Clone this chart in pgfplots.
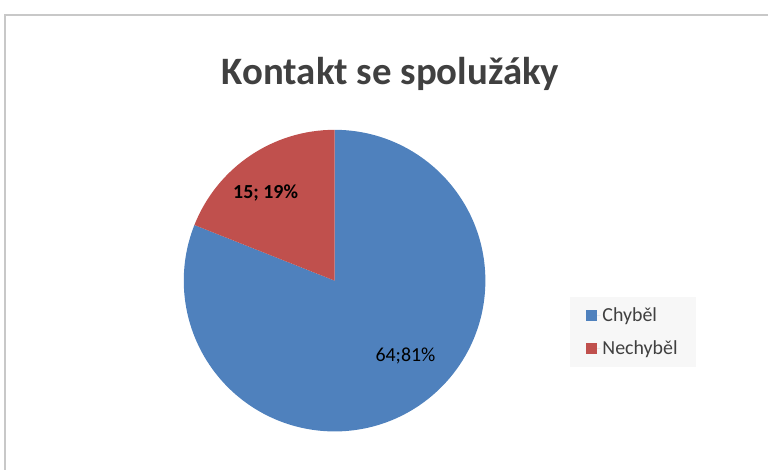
\documentclass[border=0pt]{standalone}
\usepackage{pgfplots}
\usepackage{pgfplotstable}
\pgfplotsset{compat=1.18}
\usepackage{fontspec}
\setmainfont{Carlito}

\definecolor{sliceblue}{HTML}{4F81BD}
\definecolor{slicered}{HTML}{C0504D}
\definecolor{txtgray}{HTML}{404040}
\definecolor{framegray}{HTML}{C8C8C8}

% pie values: Chybel, Nechybel
\pgfplotstableread{
value
64
15
}\piedata

\begin{document}
\begin{tikzpicture}
\pgfplotstablegetelem{0}{value}\of\piedata \let\va\pgfplotsretval
\pgfplotstablegetelem{1}{value}\of\piedata \let\vb\pgfplotsretval
\pgfmathsetmacro{\tot}{\va+\vb}
\pgfmathsetmacro{\fracA}{\va/\tot}
\pgfmathsetmacro{\angA}{360*\fracA}
\pgfmathsetmacro{\pA}{round(100*\fracA)}
\pgfmathsetmacro{\pB}{100-\pA}
\pgfkeys{/pgf/number format/assume math mode=true}
\begin{axis}[x=1bp, y=1bp, xmin=0, xmax=769, ymin=0, ymax=471,
  hide axis, clip=false,
  /pgf/number format/assume math mode=true,
  legend style={at={(axis cs:571,174)}, anchor=north west, draw=none,
    fill=black!3, font=\fontsize{20}{24}\selectfont\color{txtgray},
    inner xsep=16bp, inner ysep=9bp, row sep=14bp},
  legend cell align=left,
  legend image code/.code={\path (0bp,0bp) -- (14bp,0bp);
    \fill[#1] (0bp,-5.5bp) rectangle (11bp,5.5bp);}]
  \addlegendimage{fill=sliceblue, draw=none}
  \addlegendentry{Chyběl}
  \addlegendimage{fill=slicered, draw=none}
  \addlegendentry{Nechyběl}
  % page area
  \path (axis cs:0,0) rectangle (axis cs:769,471);
  % frame
  \draw[framegray, line width=2bp] (axis cs:769,456) -- (axis cs:5,456) -- (axis cs:5,0);
  % slices
  \fill[sliceblue] (axis cs:335,190) -- ++(90:151bp) arc[start angle=90, end angle=90-\angA, radius=151bp] -- cycle;
  \fill[slicered] (axis cs:335,190) -- ++(90-\angA:151bp) arc[start angle=90-\angA, end angle=-270, radius=151bp] -- cycle;
  % title and labels
  \node[anchor=base, text=txtgray, font=\fontsize{39}{45}\selectfont\bfseries] at (axis cs:391,386) {Kontakt se spolužáky};
  \node[font=\fontsize{20}{24}\selectfont] at (axis cs:406,115) {\pgfmathprintnumber{\va};\pgfmathprintnumber{\pA}\%};
  \node[font=\fontsize{20}{24}\selectfont\bfseries] at (axis cs:266,278) {\pgfmathprintnumber{\vb}; \pgfmathprintnumber{\pB}\%};
\end{axis}
\end{tikzpicture}
\end{document}
